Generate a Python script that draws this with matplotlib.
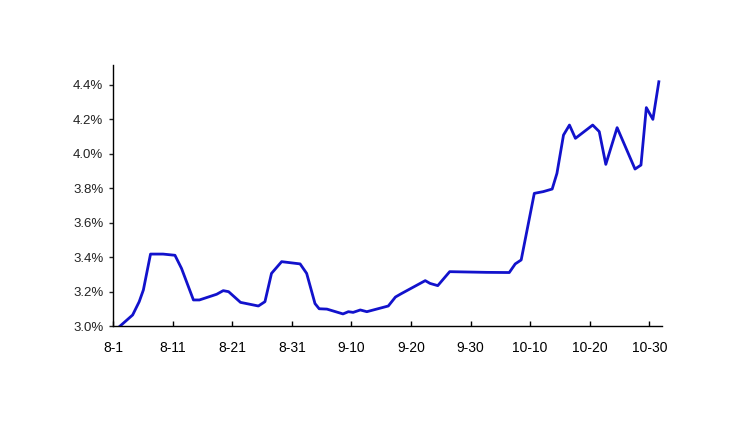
import matplotlib
matplotlib.use("Agg")
import matplotlib.pyplot as plt
from matplotlib.ticker import FuncFormatter

plt.rcParams["font.family"] = ["Liberation Sans", "DejaVu Sans"]

# days counted from 8-1, yield in %
days = [1.2, 3.3, 4.4, 5.1, 6.3, 8.4, 10.4, 11.5, 13.5, 14.5,
        17.4, 18.5, 19.4, 21.4, 24.4, 25.5, 26.6, 28.3, 31.4, 32.5,
        33.9, 34.6, 35.9, 38.6, 39.5, 40.3, 41.5, 42.6, 46.2, 47.4,
        48.3, 52.4, 53.2, 54.5, 56.5, 62.7, 66.5, 67.5, 68.5, 70.7,
        72.2, 73.7, 74.5, 75.6, 76.6, 77.6, 80.5, 81.6, 82.7, 84.6,
        87.6, 88.6, 89.5, 90.6, 91.6]
rate = [3.000, 3.064, 3.141, 3.209, 3.417, 3.417, 3.410, 3.334, 3.151, 3.151,
        3.184, 3.205, 3.199, 3.137, 3.116, 3.141, 3.305, 3.373, 3.360, 3.305,
        3.130, 3.100, 3.098, 3.070, 3.083, 3.079, 3.093, 3.083, 3.116, 3.168,
        3.186, 3.263, 3.247, 3.234, 3.315, 3.311, 3.310, 3.360, 3.383, 3.769,
        3.779, 3.794, 3.885, 4.107, 4.165, 4.088, 4.165, 4.127, 3.937, 4.150,
        3.910, 3.933, 4.266, 4.198, 4.416]

tick_days = [0, 10, 20, 30, 40, 50, 60, 70, 80, 90]
tick_labels = ["8-1", "8-11", "8-21", "8-31", "9-10",
               "9-20", "9-30", "10-10", "10-20", "10-30"]
y_ticks = [3.0, 3.2, 3.4, 3.6, 3.8, 4.0, 4.2, 4.4]

fig = plt.figure(figsize=(7.37, 4.23), dpi=100)
ax = fig.add_axes([0.1533, 0.2293, 0.7447, 0.617])

ax.plot(days, rate, color="#1212CC", linewidth=2.0, solid_joinstyle="round")

ax.set_xlim(0, 92.1)
ax.set_ylim(3.0, 4.513)
ax.set_xticks(tick_days)
ax.set_xticklabels(tick_labels)
ax.set_yticks(y_ticks)
ax.yaxis.set_major_formatter(FuncFormatter(lambda v, p: "%.1f%%" % v))

ax.spines["top"].set_visible(False)
ax.spines["right"].set_visible(False)
for s in ("left", "bottom"):
    ax.spines[s].set_linewidth(1.0)
    ax.spines[s].set_color("black")

ax.tick_params(axis="x", direction="in", length=3.5, width=1, pad=11,
               labelsize=10, colors="black")
ax.tick_params(axis="y", direction="out", length=3, width=1, pad=4,
               labelsize=9.5, colors="#222222")

fig.savefig("out.png", dpi=100, facecolor="white")
